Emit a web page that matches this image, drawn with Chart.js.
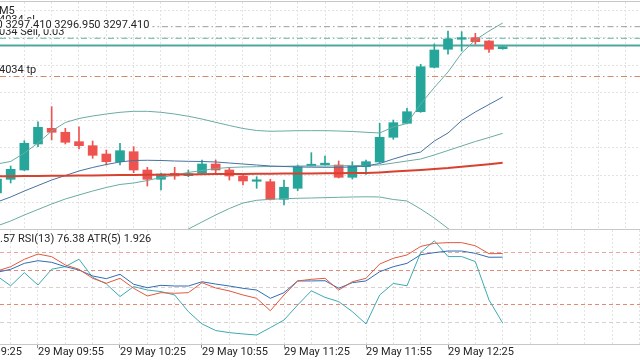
<!DOCTYPE html>
<html>
<head>
<meta charset="utf-8">
<title>XAUUSD M5</title>
<script src="https://cdn.jsdelivr.net/npm/chart.js@4.4.1/dist/chart.umd.min.js"></script>
<style>
  html, body { margin: 0; padding: 0; background: #fff; }
  #wrap { position: relative; width: 640px; height: 360px; overflow: hidden; }
  canvas { display: block; position: absolute; left: 0; }
  #main { top: 0; }
  #osc { top: 230px; }
</style>
</head>
<body>
<div id="wrap">
  <canvas id="main" width="640" height="230"></canvas>
  <canvas id="osc" width="640" height="130"></canvas>
</div>
<script>
// 5 minute candles, 29 May
const times = ['09:40','09:45','09:50','09:55','10:00','10:05','10:10','10:15','10:20','10:25','10:30','10:35','10:40','10:45','10:50','10:55',
  '11:00','11:05','11:10','11:15','11:20','11:25','11:30','11:35','11:40','11:45','11:50','11:55',
  '12:00','12:05','12:10','12:15','12:20','12:25','12:30','12:35','12:40','12:45'];

const opens  = [3270.81,3273.30,3274.99,3279.72,3282.57,3281.85,3280.14,3279.41,3277.90,3276.50,3278.32,3274.99,3273.30,3274.39,3273.96,3274.39,
  3276.08,3274.99,3273.90,3272.94,3272.86,3269.66,3271.66,3275.77,3275.96,3275.90,3273.66,3275.59,
  3276.45,3280.94,3283.48,3285.59,3293.66,3296.94,3298.76,3299.05,3298.45,3297.04];
const highs  = [3273.90,3275.72,3280.32,3283.77,3286.50,3282.57,3282.86,3280.26,3278.63,3279.85,3279.23,3275.48,3274.45,3275.48,3274.99,3276.81,
  3276.81,3275.48,3274.21,3273.77,3273.30,3273.17,3275.90,3278.14,3277.54,3276.63,3276.50,3276.81,
  3283.48,3284.08,3286.21,3294.21,3297.90,3300.26,3300.14,3299.85,3298.50,3297.41];
const lows   = [3270.40,3272.63,3274.90,3279.23,3280.45,3279.72,3278.81,3277.12,3275.90,3275.90,3274.50,3272.08,3271.36,3273.30,3273.77,3274.21,
  3274.39,3273.17,3272.26,3271.66,3269.54,3268.63,3271.23,3275.72,3275.85,3273.54,3273.36,3274.21,
  3276.32,3280.57,3283.36,3285.48,3293.54,3296.03,3296.63,3297.85,3296.39,3296.95];
const closes = [3273.36,3275.12,3279.85,3282.76,3281.85,3280.03,3279.41,3277.66,3276.50,3278.50,3274.99,3273.30,3274.26,3273.90,3274.32,3276.08,
  3274.99,3273.90,3272.99,3273.05,3269.66,3271.85,3275.59,3275.96,3276.21,3273.66,3275.72,3276.50,
  3280.94,3283.59,3285.59,3293.77,3296.81,3298.81,3299.05,3298.32,3296.94,3297.41];

// Bollinger bands and moving averages
const bbUpper  = [3276.08,3276.54,3278.08,3279.90,3282.08,3283.63,3284.36,3284.81,3285.17,3285.48,3285.66,3285.66,3285.48,3285.17,3284.76,3284.26,
  3283.66,3283.08,3282.54,3282.17,3282.03,3282.08,3282.14,3282.14,3282.14,3282.08,3281.99,3281.85,
  3281.72,3282.81,3283.45,3286.99,3289.99,3292.81,3296.26,3298.63,3300.26,3301.72];
const bbMiddle = [3264.81,3265.72,3266.81,3267.81,3268.81,3269.72,3270.45,3271.17,3271.81,3272.36,3272.63,3273.08,3273.63,3274.08,3274.54,3274.90,
  3275.26,3275.45,3275.54,3275.59,3275.63,3275.66,3275.72,3275.72,3275.72,3275.76,3275.79,3275.85,
  3275.90,3276.26,3276.63,3276.99,3277.72,3278.54,3279.36,3280.17,3280.90,3281.66];
const bbLower  = [null,null,null,null,null,null,null,null,null,null,null,null,3261.54,3262.99,3264.26,3265.54,
  3266.81,3267.99,3268.99,3269.48,3269.66,3269.77,3269.85,3269.90,3269.96,3270.03,3270.08,3270.12,
  3270.08,3269.63,3269.36,3267.90,3266.26,3264.36,3262.63,3260.63,null,null];
const maBlue   = [3269.17,3270.08,3271.17,3272.17,3273.17,3273.99,3274.81,3275.45,3275.99,3276.45,3276.72,3276.76,3276.72,3276.63,3276.57,3276.54,
  3276.45,3276.26,3276.08,3275.90,3275.72,3275.63,3275.54,3275.50,3275.48,3275.48,3275.54,3275.72,
  3276.17,3276.99,3277.72,3278.26,3280.26,3281.72,3283.99,3285.54,3286.90,3288.26];
const maRed    = [3273.85,3273.87,3273.88,3273.90,3273.94,3273.95,3273.99,3274.01,3274.05,3274.06,3274.08,3274.12,3274.14,3274.17,3274.19,3274.23,
  3274.25,3274.26,3274.28,3274.30,3274.32,3274.34,3274.36,3274.37,3274.39,3274.41,3274.43,3274.45,
  3274.55,3274.70,3274.85,3274.99,3275.17,3275.35,3275.59,3275.81,3276.05,3276.30];

// sub window
const rsiFast = [64.3,68.1,74.5,79.1,76.8,69.6,65.8,58.0,53.7,58.0,49.3,42.6,45.5,45.0,45.5,54.2,
  49.6,47.0,43.5,40.6,29.8,43.5,55.7,57.1,58.0,47.8,55.0,58.0,
  70.4,75.4,78.3,85.7,88.4,89.0,89.0,86.3,79.4,79.57];
const rsi13 = [63.2,65.8,71.0,73.3,71.9,68.1,65.2,60.0,57.7,61.5,52.8,49.8,51.9,51.3,51.3,55.0,
  53.0,51.3,49.3,47.8,40.6,45.5,55.7,55.7,55.9,49.3,54.2,55.7,
  63.7,68.1,71.0,78.5,80.3,81.7,81.7,79.7,76.3,76.38];
const atr5 = [3.71,3.34,3.84,3.37,3.97,4.07,4.35,3.66,3.41,2.93,3.31,3.18,3.12,2.99,2.36,1.89,
  1.64,1.56,1.51,1.47,1.75,2.04,2.61,3.15,2.90,2.74,2.36,1.89,
  2.99,3.43,3.34,4.60,5.05,4.45,4.45,4.26,2.80,1.926];
const oscLevels = [80, 65, 50, 35, 20];

// trade lines: sl, sell order, bid, tp
const tradePrices = [3301.05, 3298.94, 3297.63, 3291.99];

const priceGrid = [3264.08, 3269.08, 3274.08, 3279.08, 3284.08, 3289.08, 3294.08, 3299.08, 3304.08];
const timeLabels = ['29 May 09:25','29 May 09:55','29 May 10:25','29 May 10:55','29 May 11:25','29 May 11:55','29 May 12:25'];

const X_MIN = 581.1, X_MAX = 815.24;
const P_MIN = 3264.264, P_MAX = 3305.536;

const toMin = t => +t.slice(0, 2) * 60 + +t.slice(3, 5);
const xs = times.map(toMin);
const pts = arr => arr.map((v, k) => ({ x: xs[k], y: v }));

const UP = '#26a69a', DOWN = '#ef5350';
const GRID = '#e3e3e3';
const candleColor = closes.map((c, k) => c >= opens[k] ? UP : DOWN);

const gridMinutes = [];
for (let m = 565; m <= 815; m += 10) gridMinutes.push(m);
const labelFor = {};
timeLabels.forEach(s => { labelFor[toMin(s.slice(-5))] = s; });

Chart.defaults.font.family = 'Roboto';

const hLine = (price, color, dash, width, order) => ({
  type: 'line',
  data: [{ x: X_MIN, y: price }, { x: X_MAX, y: price }],
  borderColor: color, borderWidth: width, borderDash: dash,
  pointRadius: 0, order: order
});
const curve = (arr, color, width, order) => ({
  type: 'line', data: pts(arr), borderColor: color, borderWidth: width,
  pointRadius: 0, tension: 0, spanGaps: false, order: order
});

const mainText = {
  id: 'mainText',
  afterDraw(chart) {
    const ctx = chart.ctx;
    ctx.save();
    ctx.strokeStyle = '#c8c8c8';
    ctx.lineWidth = 1;
    ctx.beginPath();
    ctx.moveTo(0, 1.5); ctx.lineTo(640, 1.5);
    ctx.moveTo(0, 229.5); ctx.lineTo(640, 229.5);
    ctx.stroke();

    ctx.font = '11px Roboto';
    ctx.fillStyle = '#262626';
    ctx.textBaseline = 'alphabetic';
    ctx.fillText('M5', -1, 13.5);
    ctx.fillText('4034 sl', -1, 22.5);
    ctx.fillText('034 Sell, 0.03', -1, 34.5);

    const n = closes.length - 1;
    const first = opens[n].toFixed(3);
    const ohlc = [first, highs[n].toFixed(3), lows[n].toFixed(3), closes[n].toFixed(3)].join(' ');
    const x0 = 2.7 - ctx.measureText(first).width;
    const w = ctx.measureText(ohlc).width;
    ctx.fillStyle = '#fff';
    ctx.fillRect(0, 19.2, x0 + w + 3, 10);
    ctx.fillStyle = '#262626';
    ctx.fillText(ohlc, x0, 28.3);

    ctx.fillText('4034 tp', -1, 73.3);
    ctx.restore();
  }
};

new Chart(document.getElementById('main'), {
  type: 'bar',
  data: {
    datasets: [
      hLine(tradePrices[0], '#9c9c9c', [6, 3, 1.5, 3], 1, 6),
      hLine(tradePrices[1], '#5fb0a8', [6, 3, 1.5, 3], 1, 6),
      hLine(tradePrices[2], '#4fa79d', [], 2, 6),
      hLine(tradePrices[3], '#d08a68', [6, 3, 1.5, 3], 1, 6),
      {
        data: xs.map((x, k) => ({ x: x, y: [lows[k], highs[k]] })),
        backgroundColor: candleColor, borderWidth: 0,
        barThickness: 1, grouped: false, order: 5
      },
      {
        data: xs.map((x, k) => ({ x: x, y: [opens[k], closes[k]] })),
        backgroundColor: candleColor, borderWidth: 0,
        barThickness: 9, minBarLength: 1.5, grouped: false, order: 4
      },
      curve(bbUpper, '#6aaba3', 1, 3),
      curve(bbMiddle, '#6aaba3', 1, 3),
      curve(bbLower, '#6aaba3', 1, 3),
      curve(maBlue, '#46739f', 1, 2),
      curve(maRed, '#d9412f', 2, 1)
    ]
  },
  options: {
    responsive: false,
    animation: false,
    events: [],
    layout: { padding: { top: 2, bottom: 1, left: 0, right: 0 } },
    plugins: { legend: { display: false }, tooltip: { enabled: false } },
    scales: {
      x: {
        type: 'linear', min: X_MIN, max: X_MAX, offset: false,
        afterBuildTicks: s => { s.ticks = gridMinutes.map(v => ({ value: v })); },
        afterFit: s => { s.height = 0; s.paddingLeft = 0; s.paddingRight = 0; },
        ticks: { display: false },
        grid: { color: GRID, drawTicks: false },
        border: { display: false, dash: [2, 2] }
      },
      y: {
        min: P_MIN, max: P_MAX,
        afterBuildTicks: s => { s.ticks = priceGrid.map(v => ({ value: v })); },
        afterFit: s => { s.width = 0; },
        ticks: { display: false },
        grid: { color: GRID, drawTicks: false },
        border: { display: false, dash: [2, 2] }
      }
    }
  },
  plugins: [mainText]
});

const levelColor = v => ({ 80: '#e8a89e', 65: '#e4887a', 50: '#dccfcf', 35: '#e4887a', 20: '#d6d2d2' })[v] || GRID;

const oscText = {
  id: 'oscText',
  afterDraw(chart) {
    const ctx = chart.ctx;
    ctx.save();
    ctx.strokeStyle = '#c8c8c8';
    ctx.lineWidth = 1;
    ctx.beginPath();
    ctx.moveTo(0, 114.5); ctx.lineTo(640, 114.5);
    ctx.stroke();
    ctx.font = '11px Roboto';
    ctx.fillStyle = '#262626';
    const fast = rsiFast[rsiFast.length - 1].toFixed(2);
    const txt = 'RSI(8) ' + fast + ' RSI(13) ' + rsi13[rsi13.length - 1].toFixed(2) +
      ' ATR(5) ' + atr5[atr5.length - 1].toFixed(3);
    const hidden = ctx.measureText('RSI(8) ' + fast.split('.')[0]).width;
    ctx.fillText(txt, -hidden, 11.7);
    ctx.restore();
  }
};

new Chart(document.getElementById('osc'), {
  type: 'line',
  data: {
    datasets: [
      { data: pts(atr5), yAxisID: 'yAtr', borderColor: '#3ea9b3', borderWidth: 1, pointRadius: 0, tension: 0, order: 2 },
      { data: pts(rsi13), yAxisID: 'y', borderColor: '#2f6db5', borderWidth: 1, pointRadius: 0, tension: 0, order: 1 },
      { data: pts(rsiFast), yAxisID: 'y', borderColor: '#e0593f', borderWidth: 1, pointRadius: 0, tension: 0, order: 0 }
    ]
  },
  options: {
    responsive: false,
    animation: false,
    events: [],
    layout: { padding: 0 },
    plugins: { legend: { display: false }, tooltip: { enabled: false } },
    scales: {
      x: {
        type: 'linear', min: X_MIN, max: X_MAX, offset: false,
        afterBuildTicks: s => { s.ticks = gridMinutes.map(v => ({ value: v })); },
        afterFit: s => { s.height = 15; s.paddingLeft = 0; s.paddingRight = 0; },
        ticks: {
          autoSkip: false, maxRotation: 0, minRotation: 0, align: 'start', padding: -1,
          color: '#262626', font: { family: 'Roboto', size: 11, lineHeight: 1 },
          callback: v => labelFor[v] || ''
        },
        grid: {
          color: GRID, drawTicks: true, tickLength: 3,
          tickColor: c => (c.tick && labelFor[c.tick.value]) ? '#8a8a8a' : 'rgba(0,0,0,0)'
        },
        border: { display: false, dash: [2, 2] }
      },
      y: {
        min: 0, max: 100,
        afterBuildTicks: s => { s.ticks = oscLevels.map(v => ({ value: v })); },
        afterFit: s => { s.width = 0; },
        ticks: { display: false },
        grid: { color: c => levelColor(c.tick ? c.tick.value : 0), drawTicks: false },
        border: { display: false, dash: [4, 3] }
      },
      yAtr: { display: false, min: 1.09, max: 5.46 }
    }
  },
  plugins: [oscText]
});
</script>
</body>
</html>
